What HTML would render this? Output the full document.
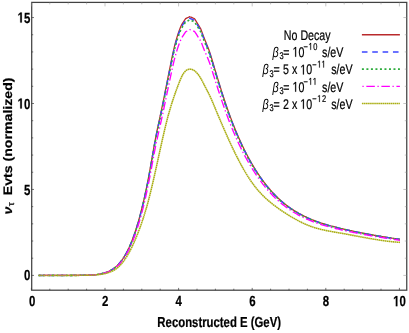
<!DOCTYPE html>
<html><head><meta charset="utf-8"><title>plot</title>
<style>
html,body{margin:0;padding:0;background:#fff;}
svg{display:block;will-change:transform;font-family:"Liberation Sans",sans-serif;}
.c path{fill:none;stroke-linejoin:round;}
.red{stroke:#b92a2c;stroke-width:1.25;}
.blu{stroke:#3b46ff;stroke-width:1.5;stroke-dasharray:5.6 4.75;}
.grn{stroke:#2dac3c;stroke-width:1.6;stroke-dasharray:2.0 2.51;}
.mag{stroke:#ff00ff;stroke-width:1.35;stroke-dasharray:8.5 2.6 1.3 2.64;stroke-dashoffset:10.6;}
.yel{stroke:#aaae14;stroke-width:1.55;stroke-dasharray:1.65 0.4;}
.ax line.d{stroke:#3a3a3a;stroke-width:0.7;}
.ax line.f{stroke:#8a8a8a;stroke-width:0.5;}
text{fill:#000;stroke:#000;stroke-width:0.22;text-rendering:geometricPrecision;}
.h{fill:none;stroke:none;}
.g1{fill:#000;stroke:#000;}
</style></head><body>
<svg width="409" height="333" viewBox="0 0 409 333">
<rect width="409" height="333" fill="#fff"/>
<g class="c">
<path class="red" d="M38.60,275.40 L39.51,275.40 L40.41,275.40 L41.32,275.40 L42.22,275.40 L43.13,275.39 L44.03,275.39 L44.94,275.39 L45.85,275.39 L46.75,275.39 L47.66,275.39 L48.56,275.39 L49.47,275.39 L50.37,275.40 L51.28,275.40 L52.19,275.40 L53.09,275.40 L54.00,275.40 L54.90,275.40 L55.81,275.40 L56.72,275.40 L57.62,275.40 L58.53,275.41 L59.43,275.41 L60.34,275.41 L61.24,275.41 L62.15,275.41 L63.06,275.41 L63.96,275.41 L64.87,275.41 L65.77,275.40 L66.68,275.40 L67.58,275.40 L68.49,275.40 L69.40,275.39 L70.30,275.39 L71.21,275.38 L72.11,275.38 L73.02,275.37 L73.92,275.37 L74.83,275.36 L75.74,275.35 L76.64,275.34 L77.55,275.33 L78.45,275.32 L79.36,275.31 L80.27,275.30 L81.17,275.29 L82.08,275.27 L82.98,275.26 L83.89,275.24 L84.79,275.22 L85.70,275.21 L86.61,275.19 L87.51,275.16 L88.42,275.14 L89.32,275.10 L90.23,275.07 L91.13,275.02 L92.04,274.97 L92.95,274.91 L93.85,274.83 L94.76,274.75 L95.66,274.66 L96.57,274.55 L97.47,274.43 L98.38,274.29 L99.29,274.14 L100.19,273.97 L101.10,273.78 L102.00,273.57 L102.91,273.34 L103.82,273.10 L104.72,272.83 L105.63,272.53 L106.53,272.21 L107.44,271.87 L108.34,271.49 L109.25,271.08 L110.16,270.63 L111.06,270.14 L111.97,269.61 L112.87,269.03 L113.78,268.41 L114.68,267.73 L115.59,266.99 L116.50,266.20 L117.40,265.35 L118.31,264.43 L119.21,263.44 L120.12,262.38 L121.02,261.25 L121.93,260.04 L122.84,258.75 L123.74,257.38 L124.65,255.93 L125.55,254.38 L126.46,252.75 L127.36,251.02 L128.27,249.19 L129.18,247.27 L130.08,245.24 L130.99,243.11 L131.89,240.87 L132.80,238.53 L133.71,236.07 L134.61,233.49 L135.52,230.80 L136.42,227.99 L137.33,225.05 L138.23,221.99 L139.14,218.79 L140.05,215.47 L140.95,212.01 L141.86,208.42 L142.76,204.68 L143.67,200.80 L144.57,196.78 L145.48,192.61 L146.39,188.29 L147.29,183.81 L148.20,179.18 L149.10,174.39 L150.01,169.44 L150.91,164.33 L151.82,159.11 L152.73,153.86 L153.63,148.66 L154.54,143.60 L155.44,138.74 L156.35,134.12 L157.26,129.67 L158.16,125.35 L159.07,121.12 L159.97,116.91 L160.88,112.68 L161.78,108.37 L162.69,103.99 L163.60,99.54 L164.50,95.03 L165.41,90.48 L166.31,85.91 L167.22,81.32 L168.12,76.74 L169.03,72.17 L169.94,67.64 L170.84,63.14 L171.75,58.71 L172.65,54.38 L173.56,50.26 L174.46,46.44 L175.37,42.92 L176.28,39.66 L177.18,36.63 L178.09,33.81 L178.99,31.17 L179.90,28.73 L180.81,26.50 L181.60,24.74 L181.71,24.57 L182.62,23.20 L183.52,21.82 L184.43,20.45 L185.33,19.07 L185.60,18.66 L186.24,18.36 L187.15,17.92 L188.05,17.49 L188.96,17.06 L189.80,16.65 L189.86,16.68 L190.77,17.07 L191.67,17.45 L192.58,17.84 L193.49,18.23 L194.39,18.62 L194.60,18.71 L195.30,19.85 L196.20,21.33 L197.11,22.81 L198.01,24.29 L198.92,25.77 L199.83,27.25 L200.60,28.51 L200.73,28.84 L201.64,31.18 L202.54,33.64 L203.45,36.12 L204.35,38.55 L205.26,40.85 L206.17,43.03 L207.07,45.19 L207.98,47.41 L208.88,49.80 L209.79,52.44 L210.70,55.28 L211.60,58.25 L212.51,61.27 L213.41,64.30 L214.32,67.32 L215.22,70.34 L216.13,73.36 L217.04,76.36 L217.94,79.35 L218.85,82.32 L219.75,85.26 L220.66,88.18 L221.56,91.07 L222.47,93.93 L223.38,96.74 L224.28,99.52 L225.19,102.25 L226.09,104.93 L227.00,107.57 L227.90,110.16 L228.81,112.70 L229.72,115.19 L230.62,117.64 L231.53,120.05 L232.43,122.41 L233.34,124.73 L234.25,127.01 L235.15,129.24 L236.06,131.44 L236.96,133.59 L237.87,135.70 L238.77,137.78 L239.68,139.81 L240.59,141.81 L241.49,143.77 L242.40,145.69 L243.30,147.57 L244.21,149.42 L245.11,151.24 L246.02,153.02 L246.93,154.76 L247.83,156.48 L248.74,158.16 L249.64,159.81 L250.55,161.42 L251.45,163.01 L252.36,164.57 L253.27,166.10 L254.17,167.59 L255.08,169.06 L255.98,170.51 L256.89,171.92 L257.79,173.31 L258.70,174.67 L259.61,176.00 L260.51,177.31 L261.42,178.59 L262.32,179.85 L263.23,181.08 L264.14,182.29 L265.04,183.47 L265.95,184.63 L266.85,185.77 L267.76,186.88 L268.66,187.97 L269.57,189.03 L270.48,190.08 L271.38,191.10 L272.29,192.10 L273.19,193.07 L274.10,194.03 L275.00,194.97 L275.91,195.88 L276.82,196.78 L277.72,197.66 L278.63,198.51 L279.53,199.35 L280.44,200.17 L281.34,200.97 L282.25,201.75 L283.16,202.52 L284.06,203.27 L284.97,204.00 L285.87,204.71 L286.78,205.41 L287.69,206.10 L288.59,206.76 L289.50,207.41 L290.40,208.05 L291.31,208.67 L292.21,209.28 L293.12,209.88 L294.03,210.46 L294.93,211.02 L295.84,211.58 L296.74,212.12 L297.65,212.65 L298.55,213.17 L299.46,213.68 L300.37,214.17 L301.27,214.66 L302.18,215.13 L303.08,215.59 L303.99,216.05 L304.89,216.49 L305.80,216.93 L306.71,217.35 L307.61,217.77 L308.52,218.17 L309.42,218.57 L310.33,218.96 L311.24,219.34 L312.14,219.71 L313.05,220.08 L313.95,220.43 L314.86,220.78 L315.76,221.13 L316.67,221.46 L317.58,221.79 L318.48,222.11 L319.39,222.42 L320.29,222.73 L321.20,223.03 L322.10,223.33 L323.01,223.62 L323.92,223.90 L324.82,224.18 L325.73,224.45 L326.63,224.72 L327.54,224.98 L328.44,225.24 L329.35,225.49 L330.26,225.74 L331.16,225.99 L332.07,226.23 L332.97,226.47 L333.88,226.71 L334.78,226.94 L335.69,227.17 L336.60,227.39 L337.50,227.62 L338.41,227.84 L339.31,228.06 L340.22,228.27 L341.13,228.49 L342.03,228.70 L342.94,228.91 L343.84,229.12 L344.75,229.33 L345.65,229.54 L346.56,229.74 L347.47,229.94 L348.37,230.14 L349.28,230.34 L350.18,230.54 L351.09,230.73 L351.99,230.93 L352.90,231.12 L353.81,231.31 L354.71,231.50 L355.62,231.69 L356.52,231.87 L357.43,232.06 L358.33,232.24 L359.24,232.42 L360.15,232.60 L361.05,232.78 L361.96,232.96 L362.86,233.13 L363.77,233.31 L364.68,233.48 L365.58,233.65 L366.49,233.82 L367.39,233.99 L368.30,234.16 L369.20,234.33 L370.11,234.49 L371.02,234.65 L371.92,234.82 L372.83,234.98 L373.73,235.14 L374.64,235.30 L375.54,235.45 L376.45,235.61 L377.36,235.76 L378.26,235.92 L379.17,236.07 L380.07,236.22 L380.98,236.37 L381.88,236.52 L382.79,236.67 L383.70,236.82 L384.60,236.97 L385.51,237.11 L386.41,237.26 L387.32,237.40 L388.23,237.55 L389.13,237.69 L390.04,237.83 L390.94,237.97 L391.85,238.11 L392.75,238.25 L393.66,238.38 L394.57,238.52 L395.47,238.66 L396.38,238.79 L397.28,238.93 L398.19,239.06 L399.09,239.20 L400.00,239.33"/>
<path class="blu" d="M38.60,275.40 L39.51,275.40 L40.41,275.40 L41.32,275.40 L42.22,275.40 L43.13,275.39 L44.03,275.39 L44.94,275.39 L45.85,275.39 L46.75,275.39 L47.66,275.39 L48.56,275.39 L49.47,275.39 L50.37,275.40 L51.28,275.40 L52.19,275.40 L53.09,275.40 L54.00,275.40 L54.90,275.40 L55.81,275.40 L56.72,275.40 L57.62,275.40 L58.53,275.41 L59.43,275.41 L60.34,275.41 L61.24,275.41 L62.15,275.41 L63.06,275.41 L63.96,275.41 L64.87,275.41 L65.77,275.40 L66.68,275.40 L67.58,275.40 L68.49,275.40 L69.40,275.39 L70.30,275.39 L71.21,275.39 L72.11,275.38 L73.02,275.37 L73.92,275.37 L74.83,275.36 L75.74,275.35 L76.64,275.34 L77.55,275.33 L78.45,275.32 L79.36,275.31 L80.27,275.30 L81.17,275.29 L82.08,275.27 L82.98,275.26 L83.89,275.24 L84.79,275.23 L85.70,275.21 L86.61,275.19 L87.51,275.17 L88.42,275.14 L89.32,275.11 L90.23,275.07 L91.13,275.02 L92.04,274.97 L92.95,274.91 L93.85,274.84 L94.76,274.76 L95.66,274.66 L96.57,274.56 L97.47,274.44 L98.38,274.30 L99.29,274.15 L100.19,273.98 L101.10,273.79 L102.00,273.59 L102.91,273.36 L103.82,273.12 L104.72,272.85 L105.63,272.56 L106.53,272.24 L107.44,271.90 L108.34,271.53 L109.25,271.12 L110.16,270.67 L111.06,270.19 L111.97,269.66 L112.87,269.09 L113.78,268.47 L114.68,267.80 L115.59,267.07 L116.50,266.28 L117.40,265.43 L118.31,264.52 L119.21,263.54 L120.12,262.50 L121.02,261.37 L121.93,260.18 L122.84,258.90 L123.74,257.54 L124.65,256.09 L125.55,254.56 L126.46,252.94 L127.36,251.22 L128.27,249.41 L129.18,247.51 L130.08,245.50 L130.99,243.38 L131.89,241.17 L132.80,238.84 L133.71,236.40 L134.61,233.84 L135.52,231.17 L136.42,228.38 L137.33,225.47 L138.23,222.43 L139.14,219.26 L140.05,215.96 L140.95,212.53 L141.86,208.97 L142.76,205.26 L143.67,201.41 L144.57,197.42 L145.48,193.28 L146.39,188.99 L147.29,184.55 L148.20,179.95 L149.10,175.20 L150.01,170.28 L150.91,165.21 L151.82,160.03 L152.73,154.82 L153.63,149.65 L154.54,144.63 L155.44,139.81 L156.35,135.21 L157.26,130.80 L158.16,126.51 L159.07,122.30 L159.97,118.12 L160.88,113.92 L161.78,109.64 L162.69,105.29 L163.60,100.86 L164.50,96.39 L165.41,91.87 L166.31,87.32 L167.22,82.77 L168.12,78.21 L169.03,73.68 L169.94,69.17 L170.84,64.70 L171.75,60.30 L172.65,56.00 L173.56,51.90 L174.46,48.10 L175.37,44.59 L176.28,41.34 L177.18,38.32 L178.09,35.51 L178.99,32.88 L179.90,30.45 L180.81,28.23 L181.60,26.47 L181.71,26.30 L182.62,24.92 L183.52,23.54 L184.43,22.17 L185.33,20.79 L185.60,20.38 L186.24,20.07 L187.15,19.63 L188.05,19.19 L188.96,18.74 L189.80,18.33 L189.86,18.36 L190.77,18.74 L191.67,19.13 L192.58,19.51 L193.49,19.90 L194.39,20.28 L194.60,20.37 L195.30,21.50 L196.20,22.97 L197.11,24.44 L198.01,25.91 L198.92,27.38 L199.83,28.85 L200.60,30.10 L200.73,30.43 L201.64,32.76 L202.54,35.20 L203.45,37.66 L204.35,40.08 L205.26,42.36 L206.17,44.53 L207.07,46.67 L207.98,48.87 L208.88,51.25 L209.79,53.87 L210.70,56.69 L211.60,59.64 L212.51,62.64 L213.41,65.65 L214.32,68.65 L215.22,71.65 L216.13,74.65 L217.04,77.63 L217.94,80.60 L218.85,83.55 L219.75,86.47 L220.66,89.36 L221.56,92.23 L222.47,95.06 L223.38,97.85 L224.28,100.60 L225.19,103.31 L226.09,105.97 L227.00,108.59 L227.90,111.15 L228.81,113.67 L229.72,116.15 L230.62,118.58 L231.53,120.96 L232.43,123.31 L233.34,125.61 L234.25,127.87 L235.15,130.08 L236.06,132.26 L236.96,134.39 L237.87,136.49 L238.77,138.55 L239.68,140.57 L240.59,142.55 L241.49,144.49 L242.40,146.40 L243.30,148.27 L244.21,150.10 L245.11,151.90 L246.02,153.67 L246.93,155.40 L247.83,157.10 L248.74,158.77 L249.64,160.40 L250.55,162.01 L251.45,163.58 L252.36,165.13 L253.27,166.65 L254.17,168.13 L255.08,169.59 L255.98,171.03 L256.89,172.43 L257.79,173.81 L258.70,175.16 L259.61,176.49 L260.51,177.79 L261.42,179.06 L262.32,180.31 L263.23,181.53 L264.14,182.73 L265.04,183.91 L265.95,185.06 L266.85,186.18 L267.76,187.29 L268.66,188.37 L269.57,189.43 L270.48,190.46 L271.38,191.48 L272.29,192.47 L273.19,193.44 L274.10,194.39 L275.00,195.32 L275.91,196.23 L276.82,197.12 L277.72,197.99 L278.63,198.85 L279.53,199.68 L280.44,200.49 L281.34,201.29 L282.25,202.07 L283.16,202.83 L284.06,203.57 L284.97,204.30 L285.87,205.01 L286.78,205.70 L287.69,206.38 L288.59,207.04 L289.50,207.69 L290.40,208.32 L291.31,208.94 L292.21,209.55 L293.12,210.14 L294.03,210.71 L294.93,211.28 L295.84,211.83 L296.74,212.37 L297.65,212.90 L298.55,213.41 L299.46,213.92 L300.37,214.41 L301.27,214.89 L302.18,215.36 L303.08,215.83 L303.99,216.28 L304.89,216.72 L305.80,217.15 L306.71,217.57 L307.61,217.99 L308.52,218.39 L309.42,218.79 L310.33,219.17 L311.24,219.55 L312.14,219.92 L313.05,220.29 L313.95,220.64 L314.86,220.99 L315.76,221.33 L316.67,221.66 L317.58,221.99 L318.48,222.31 L319.39,222.62 L320.29,222.92 L321.20,223.22 L322.10,223.52 L323.01,223.81 L323.92,224.09 L324.82,224.36 L325.73,224.64 L326.63,224.90 L327.54,225.17 L328.44,225.42 L329.35,225.68 L330.26,225.92 L331.16,226.17 L332.07,226.41 L332.97,226.65 L333.88,226.88 L334.78,227.11 L335.69,227.34 L336.60,227.57 L337.50,227.79 L338.41,228.01 L339.31,228.23 L340.22,228.44 L341.13,228.66 L342.03,228.87 L342.94,229.08 L343.84,229.29 L344.75,229.49 L345.65,229.70 L346.56,229.90 L347.47,230.10 L348.37,230.30 L349.28,230.50 L350.18,230.70 L351.09,230.89 L351.99,231.09 L352.90,231.28 L353.81,231.47 L354.71,231.65 L355.62,231.84 L356.52,232.03 L357.43,232.21 L358.33,232.39 L359.24,232.57 L360.15,232.75 L361.05,232.93 L361.96,233.11 L362.86,233.28 L363.77,233.45 L364.68,233.63 L365.58,233.80 L366.49,233.97 L367.39,234.13 L368.30,234.30 L369.20,234.47 L370.11,234.63 L371.02,234.79 L371.92,234.96 L372.83,235.12 L373.73,235.27 L374.64,235.43 L375.54,235.59 L376.45,235.75 L377.36,235.90 L378.26,236.05 L379.17,236.21 L380.07,236.36 L380.98,236.51 L381.88,236.66 L382.79,236.80 L383.70,236.95 L384.60,237.10 L385.51,237.24 L386.41,237.39 L387.32,237.53 L388.23,237.67 L389.13,237.81 L390.04,237.95 L390.94,238.09 L391.85,238.23 L392.75,238.37 L393.66,238.51 L394.57,238.64 L395.47,238.78 L396.38,238.91 L397.28,239.05 L398.19,239.18 L399.09,239.31 L400.00,239.45"/>
<path class="grn" d="M38.60,275.40 L39.51,275.40 L40.41,275.40 L41.32,275.40 L42.22,275.40 L43.13,275.39 L44.03,275.39 L44.94,275.39 L45.85,275.39 L46.75,275.39 L47.66,275.39 L48.56,275.39 L49.47,275.39 L50.37,275.40 L51.28,275.40 L52.19,275.40 L53.09,275.40 L54.00,275.40 L54.90,275.40 L55.81,275.40 L56.72,275.40 L57.62,275.40 L58.53,275.41 L59.43,275.41 L60.34,275.41 L61.24,275.41 L62.15,275.41 L63.06,275.41 L63.96,275.41 L64.87,275.41 L65.77,275.40 L66.68,275.40 L67.58,275.40 L68.49,275.40 L69.40,275.39 L70.30,275.39 L71.21,275.39 L72.11,275.38 L73.02,275.37 L73.92,275.37 L74.83,275.36 L75.74,275.35 L76.64,275.34 L77.55,275.34 L78.45,275.33 L79.36,275.31 L80.27,275.30 L81.17,275.29 L82.08,275.28 L82.98,275.26 L83.89,275.24 L84.79,275.23 L85.70,275.21 L86.61,275.19 L87.51,275.17 L88.42,275.14 L89.32,275.11 L90.23,275.07 L91.13,275.03 L92.04,274.98 L92.95,274.92 L93.85,274.84 L94.76,274.76 L95.66,274.67 L96.57,274.56 L97.47,274.44 L98.38,274.31 L99.29,274.16 L100.19,273.99 L101.10,273.81 L102.00,273.60 L102.91,273.38 L103.82,273.14 L104.72,272.87 L105.63,272.58 L106.53,272.27 L107.44,271.93 L108.34,271.56 L109.25,271.15 L110.16,270.71 L111.06,270.23 L111.97,269.71 L112.87,269.14 L113.78,268.53 L114.68,267.86 L115.59,267.14 L116.50,266.36 L117.40,265.52 L118.31,264.61 L119.21,263.64 L120.12,262.60 L121.02,261.49 L121.93,260.30 L122.84,259.03 L123.74,257.68 L124.65,256.25 L125.55,254.73 L126.46,253.12 L127.36,251.42 L128.27,249.62 L129.18,247.73 L130.08,245.73 L130.99,243.64 L131.89,241.43 L132.80,239.12 L133.71,236.70 L134.61,234.17 L135.52,231.52 L136.42,228.75 L137.33,225.85 L138.23,222.84 L139.14,219.69 L140.05,216.42 L140.95,213.01 L141.86,209.47 L142.76,205.79 L143.67,201.97 L144.57,198.01 L145.48,193.90 L146.39,189.64 L147.29,185.23 L148.20,180.66 L149.10,175.94 L150.01,171.06 L150.91,166.02 L151.82,160.88 L152.73,155.70 L153.63,150.57 L154.54,145.58 L155.44,140.79 L156.35,136.23 L157.26,131.84 L158.16,127.58 L159.07,123.40 L159.97,119.24 L160.88,115.07 L161.78,110.82 L162.69,106.49 L163.60,102.09 L164.50,97.64 L165.41,93.15 L166.31,88.63 L167.22,84.10 L168.12,79.58 L169.03,75.06 L169.94,70.58 L170.84,66.14 L171.75,61.76 L172.65,57.48 L173.56,53.41 L174.46,49.62 L175.37,46.13 L176.28,42.89 L177.18,39.89 L178.09,37.08 L178.99,34.46 L179.90,32.03 L180.81,29.81 L181.60,28.06 L181.71,27.89 L182.62,26.51 L183.52,25.13 L184.43,23.75 L185.33,22.37 L185.60,21.97 L186.24,21.65 L187.15,21.20 L188.05,20.75 L188.96,20.30 L189.80,19.89 L189.86,19.91 L190.77,20.29 L191.67,20.67 L192.58,21.05 L193.49,21.44 L194.39,21.82 L194.60,21.90 L195.30,23.03 L196.20,24.49 L197.11,25.95 L198.01,27.41 L198.92,28.87 L199.83,30.33 L200.60,31.57 L200.73,31.90 L201.64,34.21 L202.54,36.63 L203.45,39.09 L204.35,41.48 L205.26,43.75 L206.17,45.91 L207.07,48.03 L207.98,50.23 L208.88,52.58 L209.79,55.19 L210.70,57.99 L211.60,60.92 L212.51,63.90 L213.41,66.89 L214.32,69.88 L215.22,72.86 L216.13,75.84 L217.04,78.80 L217.94,81.75 L218.85,84.68 L219.75,87.58 L220.66,90.45 L221.56,93.30 L222.47,96.10 L223.38,98.88 L224.28,101.61 L225.19,104.29 L226.09,106.93 L227.00,109.52 L227.90,112.07 L228.81,114.57 L229.72,117.03 L230.62,119.44 L231.53,121.81 L232.43,124.13 L233.34,126.42 L234.25,128.66 L235.15,130.86 L236.06,133.02 L236.96,135.14 L237.87,137.22 L238.77,139.26 L239.68,141.26 L240.59,143.23 L241.49,145.16 L242.40,147.05 L243.30,148.91 L244.21,150.73 L245.11,152.52 L246.02,154.27 L246.93,155.99 L247.83,157.68 L248.74,159.33 L249.64,160.96 L250.55,162.55 L251.45,164.11 L252.36,165.65 L253.27,167.15 L254.17,168.63 L255.08,170.08 L255.98,171.51 L256.89,172.90 L257.79,174.27 L258.70,175.62 L259.61,176.93 L260.51,178.22 L261.42,179.49 L262.32,180.73 L263.23,181.95 L264.14,183.14 L265.04,184.31 L265.95,185.45 L266.85,186.57 L267.76,187.67 L268.66,188.74 L269.57,189.79 L270.48,190.82 L271.38,191.83 L272.29,192.82 L273.19,193.78 L274.10,194.73 L275.00,195.65 L275.91,196.56 L276.82,197.44 L277.72,198.31 L278.63,199.15 L279.53,199.98 L280.44,200.79 L281.34,201.58 L282.25,202.35 L283.16,203.11 L284.06,203.85 L284.97,204.57 L285.87,205.27 L286.78,205.96 L287.69,206.64 L288.59,207.30 L289.50,207.94 L290.40,208.57 L291.31,209.19 L292.21,209.79 L293.12,210.38 L294.03,210.95 L294.93,211.52 L295.84,212.06 L296.74,212.60 L297.65,213.13 L298.55,213.64 L299.46,214.14 L300.37,214.63 L301.27,215.11 L302.18,215.58 L303.08,216.04 L303.99,216.49 L304.89,216.93 L305.80,217.36 L306.71,217.78 L307.61,218.19 L308.52,218.59 L309.42,218.99 L310.33,219.37 L311.24,219.75 L312.14,220.12 L313.05,220.48 L313.95,220.83 L314.86,221.18 L315.76,221.52 L316.67,221.85 L317.58,222.17 L318.48,222.49 L319.39,222.80 L320.29,223.10 L321.20,223.40 L322.10,223.69 L323.01,223.98 L323.92,224.26 L324.82,224.54 L325.73,224.81 L326.63,225.07 L327.54,225.33 L328.44,225.59 L329.35,225.84 L330.26,226.09 L331.16,226.33 L332.07,226.57 L332.97,226.81 L333.88,227.04 L334.78,227.27 L335.69,227.50 L336.60,227.72 L337.50,227.95 L338.41,228.17 L339.31,228.38 L340.22,228.60 L341.13,228.81 L342.03,229.02 L342.94,229.23 L343.84,229.44 L344.75,229.64 L345.65,229.85 L346.56,230.05 L347.47,230.25 L348.37,230.45 L349.28,230.65 L350.18,230.84 L351.09,231.04 L351.99,231.23 L352.90,231.42 L353.81,231.61 L354.71,231.80 L355.62,231.98 L356.52,232.17 L357.43,232.35 L358.33,232.53 L359.24,232.71 L360.15,232.89 L361.05,233.07 L361.96,233.24 L362.86,233.42 L363.77,233.59 L364.68,233.76 L365.58,233.93 L366.49,234.10 L367.39,234.27 L368.30,234.43 L369.20,234.60 L370.11,234.76 L371.02,234.92 L371.92,235.08 L372.83,235.24 L373.73,235.40 L374.64,235.56 L375.54,235.71 L376.45,235.87 L377.36,236.02 L378.26,236.18 L379.17,236.33 L380.07,236.48 L380.98,236.63 L381.88,236.78 L382.79,236.92 L383.70,237.07 L384.60,237.22 L385.51,237.36 L386.41,237.50 L387.32,237.65 L388.23,237.79 L389.13,237.93 L390.04,238.07 L390.94,238.21 L391.85,238.35 L392.75,238.48 L393.66,238.62 L394.57,238.76 L395.47,238.89 L396.38,239.03 L397.28,239.16 L398.19,239.29 L399.09,239.42 L400.00,239.56"/>
<path class="mag" d="M38.60,275.40 L39.51,275.40 L40.41,275.40 L41.32,275.40 L42.22,275.40 L43.13,275.39 L44.03,275.39 L44.94,275.39 L45.85,275.39 L46.75,275.39 L47.66,275.39 L48.56,275.39 L49.47,275.40 L50.37,275.40 L51.28,275.40 L52.19,275.40 L53.09,275.40 L54.00,275.40 L54.90,275.40 L55.81,275.40 L56.72,275.40 L57.62,275.40 L58.53,275.41 L59.43,275.41 L60.34,275.41 L61.24,275.41 L62.15,275.41 L63.06,275.41 L63.96,275.41 L64.87,275.40 L65.77,275.40 L66.68,275.40 L67.58,275.40 L68.49,275.40 L69.40,275.39 L70.30,275.39 L71.21,275.39 L72.11,275.38 L73.02,275.38 L73.92,275.37 L74.83,275.36 L75.74,275.36 L76.64,275.35 L77.55,275.34 L78.45,275.33 L79.36,275.32 L80.27,275.31 L81.17,275.30 L82.08,275.28 L82.98,275.27 L83.89,275.25 L84.79,275.24 L85.70,275.22 L86.61,275.20 L87.51,275.18 L88.42,275.16 L89.32,275.13 L90.23,275.09 L91.13,275.05 L92.04,275.00 L92.95,274.94 L93.85,274.87 L94.76,274.80 L95.66,274.71 L96.57,274.61 L97.47,274.50 L98.38,274.37 L99.29,274.23 L100.19,274.07 L101.10,273.89 L102.00,273.70 L102.91,273.49 L103.82,273.26 L104.72,273.01 L105.63,272.73 L106.53,272.44 L107.44,272.11 L108.34,271.76 L109.25,271.38 L110.16,270.96 L111.06,270.50 L111.97,270.01 L112.87,269.47 L113.78,268.89 L114.68,268.25 L115.59,267.57 L116.50,266.82 L117.40,266.03 L118.31,265.17 L119.21,264.25 L120.12,263.26 L121.02,262.20 L121.93,261.07 L122.84,259.86 L123.74,258.58 L124.65,257.22 L125.55,255.77 L126.46,254.24 L127.36,252.62 L128.27,250.91 L129.18,249.11 L130.08,247.21 L130.99,245.21 L131.89,243.11 L132.80,240.91 L133.71,238.61 L134.61,236.19 L135.52,233.66 L136.42,231.02 L137.33,228.26 L138.23,225.39 L139.14,222.39 L140.05,219.27 L140.95,216.02 L141.86,212.64 L142.76,209.12 L143.67,205.47 L144.57,201.69 L145.48,197.76 L146.39,193.69 L147.29,189.47 L148.20,185.11 L149.10,180.59 L150.01,175.92 L150.91,171.10 L151.82,166.17 L152.73,161.22 L153.63,156.31 L154.54,151.52 L155.44,146.93 L156.35,142.56 L157.26,138.35 L158.16,134.26 L159.07,130.24 L159.97,126.25 L160.88,122.23 L161.78,118.15 L162.69,113.99 L163.60,109.76 L164.50,105.48 L165.41,101.15 L166.31,96.81 L167.22,92.45 L168.12,88.08 L169.03,83.74 L169.94,79.42 L170.84,75.14 L171.75,70.91 L172.65,66.78 L173.56,62.83 L174.46,59.15 L175.37,55.75 L176.28,52.59 L177.18,49.65 L178.09,46.90 L178.99,44.33 L179.90,41.93 L180.81,39.75 L181.60,38.01 L181.71,37.84 L182.62,36.45 L183.52,35.06 L184.43,33.67 L185.33,32.29 L185.60,31.88 L186.24,31.53 L187.15,31.03 L188.05,30.53 L188.96,30.04 L189.80,29.59 L189.86,29.61 L190.77,29.97 L191.67,30.33 L192.58,30.69 L193.49,31.05 L194.39,31.42 L194.60,31.50 L195.30,32.57 L196.20,33.97 L197.11,35.37 L198.01,36.77 L198.92,38.17 L199.83,39.57 L200.60,40.76 L200.73,41.07 L201.64,43.30 L202.54,45.62 L203.45,47.97 L204.35,50.28 L205.26,52.46 L206.17,54.52 L207.07,56.56 L207.98,58.67 L208.88,60.93 L209.79,63.43 L210.70,66.13 L211.60,68.94 L212.51,71.81 L213.41,74.68 L214.32,77.55 L215.22,80.42 L216.13,83.28 L217.04,86.13 L217.94,88.96 L218.85,91.78 L219.75,94.54 L220.66,97.27 L221.56,99.97 L222.47,102.63 L223.38,105.27 L224.28,107.86 L225.19,110.42 L226.09,112.93 L227.00,115.39 L227.90,117.81 L228.81,120.19 L229.72,122.53 L230.62,124.82 L231.53,127.08 L232.43,129.29 L233.34,131.47 L234.25,133.60 L235.15,135.70 L236.06,137.75 L236.96,139.77 L237.87,141.76 L238.77,143.70 L239.68,145.61 L240.59,147.49 L241.49,149.33 L242.40,151.13 L243.30,152.90 L244.21,154.64 L245.11,156.35 L246.02,158.02 L246.93,159.66 L247.83,161.27 L248.74,162.85 L249.64,164.40 L250.55,165.93 L251.45,167.42 L252.36,168.89 L253.27,170.33 L254.17,171.75 L255.08,173.14 L255.98,174.51 L256.89,175.85 L257.79,177.17 L258.70,178.46 L259.61,179.72 L260.51,180.96 L261.42,182.18 L262.32,183.37 L263.23,184.54 L264.14,185.68 L265.04,186.80 L265.95,187.90 L266.85,188.98 L267.76,190.03 L268.66,191.06 L269.57,192.07 L270.48,193.06 L271.38,194.03 L272.29,194.98 L273.19,195.91 L274.10,196.82 L275.00,197.71 L275.91,198.57 L276.82,199.43 L277.72,200.26 L278.63,201.07 L279.53,201.87 L280.44,202.64 L281.34,203.40 L282.25,204.15 L283.16,204.87 L284.06,205.58 L284.97,206.28 L285.87,206.95 L286.78,207.62 L287.69,208.26 L288.59,208.90 L289.50,209.52 L290.40,210.13 L291.31,210.73 L292.21,211.31 L293.12,211.89 L294.03,212.44 L294.93,212.99 L295.84,213.52 L296.74,214.04 L297.65,214.55 L298.55,215.05 L299.46,215.54 L300.37,216.01 L301.27,216.48 L302.18,216.93 L303.08,217.38 L303.99,217.81 L304.89,218.24 L305.80,218.66 L306.71,219.07 L307.61,219.47 L308.52,219.86 L309.42,220.24 L310.33,220.61 L311.24,220.98 L312.14,221.33 L313.05,221.68 L313.95,222.03 L314.86,222.36 L315.76,222.69 L316.67,223.01 L317.58,223.32 L318.48,223.63 L319.39,223.93 L320.29,224.23 L321.20,224.52 L322.10,224.80 L323.01,225.08 L323.92,225.35 L324.82,225.62 L325.73,225.88 L326.63,226.14 L327.54,226.39 L328.44,226.64 L329.35,226.89 L330.26,227.13 L331.16,227.36 L332.07,227.60 L332.97,227.83 L333.88,228.06 L334.78,228.28 L335.69,228.50 L336.60,228.72 L337.50,228.93 L338.41,229.15 L339.31,229.36 L340.22,229.57 L341.13,229.78 L342.03,229.98 L342.94,230.19 L343.84,230.39 L344.75,230.59 L345.65,230.79 L346.56,230.98 L347.47,231.18 L348.37,231.37 L349.28,231.57 L350.18,231.76 L351.09,231.94 L351.99,232.13 L352.90,232.32 L353.81,232.50 L354.71,232.68 L355.62,232.87 L356.52,233.04 L357.43,233.22 L358.33,233.40 L359.24,233.57 L360.15,233.75 L361.05,233.92 L361.96,234.09 L362.86,234.26 L363.77,234.43 L364.68,234.60 L365.58,234.76 L366.49,234.93 L367.39,235.09 L368.30,235.25 L369.20,235.41 L370.11,235.57 L371.02,235.73 L371.92,235.88 L372.83,236.04 L373.73,236.19 L374.64,236.35 L375.54,236.50 L376.45,236.65 L377.36,236.80 L378.26,236.95 L379.17,237.10 L380.07,237.24 L380.98,237.39 L381.88,237.53 L382.79,237.68 L383.70,237.82 L384.60,237.96 L385.51,238.10 L386.41,238.24 L387.32,238.38 L388.23,238.52 L389.13,238.66 L390.04,238.79 L390.94,238.93 L391.85,239.06 L392.75,239.20 L393.66,239.33 L394.57,239.46 L395.47,239.59 L396.38,239.72 L397.28,239.85 L398.19,239.98 L399.09,240.11 L400.00,240.24"/>
<path class="yel" d="M38.60,275.40 L39.51,275.40 L40.41,275.40 L41.32,275.40 L42.22,275.40 L43.13,275.40 L44.03,275.40 L44.94,275.40 L45.85,275.40 L46.75,275.40 L47.66,275.40 L48.56,275.40 L49.47,275.40 L50.37,275.40 L51.28,275.40 L52.19,275.40 L53.09,275.40 L54.00,275.40 L54.90,275.40 L55.81,275.40 L56.72,275.41 L57.62,275.41 L58.53,275.41 L59.43,275.41 L60.34,275.41 L61.24,275.41 L62.15,275.41 L63.06,275.41 L63.96,275.41 L64.87,275.41 L65.77,275.40 L66.68,275.40 L67.58,275.40 L68.49,275.40 L69.40,275.40 L70.30,275.40 L71.21,275.39 L72.11,275.39 L73.02,275.39 L73.92,275.38 L74.83,275.38 L75.74,275.37 L76.64,275.37 L77.55,275.36 L78.45,275.36 L79.36,275.35 L80.27,275.34 L81.17,275.33 L82.08,275.33 L82.98,275.32 L83.89,275.31 L84.79,275.30 L85.70,275.29 L86.61,275.27 L87.51,275.26 L88.42,275.24 L89.32,275.22 L90.23,275.20 L91.13,275.17 L92.04,275.14 L92.95,275.09 L93.85,275.04 L94.76,274.99 L95.66,274.92 L96.57,274.85 L97.47,274.76 L98.38,274.67 L99.29,274.56 L100.19,274.44 L101.10,274.31 L102.00,274.16 L102.91,274.00 L103.82,273.82 L104.72,273.62 L105.63,273.41 L106.53,273.18 L107.44,272.93 L108.34,272.66 L109.25,272.35 L110.16,272.02 L111.06,271.65 L111.97,271.24 L112.87,270.79 L113.78,270.30 L114.68,269.76 L115.59,269.16 L116.50,268.52 L117.40,267.81 L118.31,267.05 L119.21,266.22 L120.12,265.32 L121.02,264.35 L121.93,263.31 L122.84,262.20 L123.74,261.01 L124.65,259.74 L125.55,258.41 L126.46,257.00 L127.36,255.51 L128.27,253.96 L129.18,252.34 L130.08,250.64 L130.99,248.88 L131.89,247.04 L132.80,245.14 L133.71,243.17 L134.61,241.13 L135.52,239.03 L136.42,236.85 L137.33,234.62 L138.23,232.31 L139.14,229.94 L140.05,227.50 L140.95,224.97 L141.86,222.37 L142.76,219.68 L143.67,216.89 L144.57,214.02 L145.48,211.04 L146.39,207.95 L147.29,204.76 L148.20,201.45 L149.10,198.02 L150.01,194.47 L150.91,190.81 L151.82,187.04 L152.73,183.18 L153.63,179.24 L154.54,175.23 L155.44,171.17 L156.35,167.07 L157.26,162.94 L158.16,158.80 L159.07,154.66 L159.97,150.53 L160.88,146.42 L161.78,142.35 L162.69,138.32 L163.60,134.37 L164.50,130.48 L165.41,126.68 L166.31,122.99 L167.22,119.41 L168.12,115.95 L169.03,112.64 L169.94,109.46 L170.84,106.42 L171.75,103.49 L172.65,100.67 L173.56,97.95 L174.46,95.32 L175.37,92.76 L176.28,90.26 L177.18,87.82 L178.09,85.42 L178.99,83.06 L179.90,80.77 L180.81,78.60 L181.60,76.84 L181.71,76.61 L182.62,74.84 L183.52,73.35 L184.43,72.15 L185.33,71.20 L185.60,70.96 L186.24,70.46 L187.15,69.89 L188.05,69.48 L188.96,69.23 L189.80,69.12 L189.86,69.12 L190.77,69.16 L191.67,69.34 L192.58,69.66 L193.49,70.11 L194.39,70.69 L194.60,70.84 L195.30,71.39 L196.20,72.22 L197.11,73.18 L198.01,74.26 L198.92,75.48 L199.83,76.83 L200.60,78.09 L200.73,78.31 L201.64,79.92 L202.54,81.62 L203.45,83.38 L204.35,85.16 L205.26,86.93 L206.17,88.67 L207.07,90.40 L207.98,92.15 L208.88,93.94 L209.79,95.78 L210.70,97.71 L211.60,99.75 L212.51,101.86 L213.41,104.03 L214.32,106.21 L215.22,108.39 L216.13,110.56 L217.04,112.73 L217.94,114.88 L218.85,117.03 L219.75,119.17 L220.66,121.30 L221.56,123.42 L222.47,125.52 L223.38,127.61 L224.28,129.69 L225.19,131.76 L226.09,133.81 L227.00,135.84 L227.90,137.86 L228.81,139.85 L229.72,141.83 L230.62,143.80 L231.53,145.74 L232.43,147.66 L233.34,149.56 L234.25,151.43 L235.15,153.29 L236.06,155.12 L236.96,156.92 L237.87,158.70 L238.77,160.45 L239.68,162.18 L240.59,163.88 L241.49,165.55 L242.40,167.19 L243.30,168.80 L244.21,170.38 L245.11,171.92 L246.02,173.44 L246.93,174.92 L247.83,176.37 L248.74,177.78 L249.64,179.16 L250.55,180.50 L251.45,181.80 L252.36,183.07 L253.27,184.30 L254.17,185.50 L255.08,186.67 L255.98,187.81 L256.89,188.91 L257.79,189.99 L258.70,191.03 L259.61,192.05 L260.51,193.04 L261.42,194.01 L262.32,194.95 L263.23,195.86 L264.14,196.76 L265.04,197.63 L265.95,198.47 L266.85,199.30 L267.76,200.11 L268.66,200.90 L269.57,201.67 L270.48,202.42 L271.38,203.16 L272.29,203.88 L273.19,204.59 L274.10,205.28 L275.00,205.96 L275.91,206.63 L276.82,207.29 L277.72,207.94 L278.63,208.59 L279.53,209.22 L280.44,209.85 L281.34,210.47 L282.25,211.08 L283.16,211.69 L284.06,212.29 L284.97,212.88 L285.87,213.47 L286.78,214.05 L287.69,214.63 L288.59,215.19 L289.50,215.75 L290.40,216.30 L291.31,216.85 L292.21,217.38 L293.12,217.91 L294.03,218.43 L294.93,218.94 L295.84,219.44 L296.74,219.93 L297.65,220.42 L298.55,220.89 L299.46,221.36 L300.37,221.82 L301.27,222.26 L302.18,222.70 L303.08,223.13 L303.99,223.54 L304.89,223.95 L305.80,224.35 L306.71,224.73 L307.61,225.11 L308.52,225.47 L309.42,225.83 L310.33,226.17 L311.24,226.50 L312.14,226.82 L313.05,227.12 L313.95,227.42 L314.86,227.71 L315.76,227.98 L316.67,228.25 L317.58,228.50 L318.48,228.75 L319.39,228.99 L320.29,229.21 L321.20,229.44 L322.10,229.65 L323.01,229.86 L323.92,230.06 L324.82,230.25 L325.73,230.44 L326.63,230.63 L327.54,230.81 L328.44,230.98 L329.35,231.15 L330.26,231.32 L331.16,231.48 L332.07,231.65 L332.97,231.81 L333.88,231.96 L334.78,232.12 L335.69,232.28 L336.60,232.43 L337.50,232.59 L338.41,232.74 L339.31,232.90 L340.22,233.05 L341.13,233.21 L342.03,233.37 L342.94,233.54 L343.84,233.70 L344.75,233.86 L345.65,234.03 L346.56,234.19 L347.47,234.36 L348.37,234.53 L349.28,234.70 L350.18,234.87 L351.09,235.04 L351.99,235.21 L352.90,235.38 L353.81,235.55 L354.71,235.72 L355.62,235.89 L356.52,236.06 L357.43,236.23 L358.33,236.40 L359.24,236.57 L360.15,236.74 L361.05,236.91 L361.96,237.08 L362.86,237.24 L363.77,237.41 L364.68,237.58 L365.58,237.74 L366.49,237.90 L367.39,238.07 L368.30,238.23 L369.20,238.39 L370.11,238.55 L371.02,238.71 L371.92,238.86 L372.83,239.01 L373.73,239.17 L374.64,239.32 L375.54,239.46 L376.45,239.61 L377.36,239.75 L378.26,239.90 L379.17,240.04 L380.07,240.17 L380.98,240.31 L381.88,240.44 L382.79,240.57 L383.70,240.69 L384.60,240.82 L385.51,240.94 L386.41,241.05 L387.32,241.17 L388.23,241.28 L389.13,241.38 L390.04,241.49 L390.94,241.59 L391.85,241.68 L392.75,241.77 L393.66,241.86 L394.57,241.95 L395.47,242.03 L396.38,242.10 L397.28,242.18 L398.19,242.24 L399.09,242.31 L400.00,242.37"/>
<path class="red" style="stroke-width:1.6" d="M361.9,34.74 L399.9,34.74"/>
<path class="blu"  d="M361.9,51.93 L399.9,51.93"/>
<path class="grn"  d="M361.9,69.12 L399.9,69.12"/>
<path class="mag"  d="M361.9,86.31 L399.9,86.31"/>
<path class="yel"  d="M361.9,103.50 L399.9,103.50"/>
</g>
<g class="ax">
<rect x="31.7" y="2.4" width="375.05" height="287.8" fill="none" stroke="#424242" stroke-width="1.25"/>
<line class="d" x1="31.40" y1="290.2" x2="31.40" y2="287.9"/>
<line class="f" x1="31.40" y1="2.4" x2="31.40" y2="6.4"/>
<line class="d" x1="49.80" y1="290.2" x2="49.80" y2="288.7"/>
<line class="f" x1="49.80" y1="2.4" x2="49.80" y2="4.4"/>
<line class="d" x1="68.20" y1="290.2" x2="68.20" y2="288.7"/>
<line class="f" x1="68.20" y1="2.4" x2="68.20" y2="4.4"/>
<line class="d" x1="86.60" y1="290.2" x2="86.60" y2="288.7"/>
<line class="f" x1="86.60" y1="2.4" x2="86.60" y2="4.4"/>
<line class="d" x1="105.00" y1="290.2" x2="105.00" y2="287.9"/>
<line class="f" x1="105.00" y1="2.4" x2="105.00" y2="6.4"/>
<line class="d" x1="123.40" y1="290.2" x2="123.40" y2="288.7"/>
<line class="f" x1="123.40" y1="2.4" x2="123.40" y2="4.4"/>
<line class="d" x1="141.80" y1="290.2" x2="141.80" y2="288.7"/>
<line class="f" x1="141.80" y1="2.4" x2="141.80" y2="4.4"/>
<line class="d" x1="160.20" y1="290.2" x2="160.20" y2="288.7"/>
<line class="f" x1="160.20" y1="2.4" x2="160.20" y2="4.4"/>
<line class="d" x1="178.60" y1="290.2" x2="178.60" y2="287.9"/>
<line class="f" x1="178.60" y1="2.4" x2="178.60" y2="6.4"/>
<line class="d" x1="197.00" y1="290.2" x2="197.00" y2="288.7"/>
<line class="f" x1="197.00" y1="2.4" x2="197.00" y2="4.4"/>
<line class="d" x1="215.40" y1="290.2" x2="215.40" y2="288.7"/>
<line class="f" x1="215.40" y1="2.4" x2="215.40" y2="4.4"/>
<line class="d" x1="233.80" y1="290.2" x2="233.80" y2="288.7"/>
<line class="f" x1="233.80" y1="2.4" x2="233.80" y2="4.4"/>
<line class="d" x1="252.20" y1="290.2" x2="252.20" y2="287.9"/>
<line class="f" x1="252.20" y1="2.4" x2="252.20" y2="6.4"/>
<line class="d" x1="270.60" y1="290.2" x2="270.60" y2="288.7"/>
<line class="f" x1="270.60" y1="2.4" x2="270.60" y2="4.4"/>
<line class="d" x1="289.00" y1="290.2" x2="289.00" y2="288.7"/>
<line class="f" x1="289.00" y1="2.4" x2="289.00" y2="4.4"/>
<line class="d" x1="307.40" y1="290.2" x2="307.40" y2="288.7"/>
<line class="f" x1="307.40" y1="2.4" x2="307.40" y2="4.4"/>
<line class="d" x1="325.80" y1="290.2" x2="325.80" y2="287.9"/>
<line class="f" x1="325.80" y1="2.4" x2="325.80" y2="6.4"/>
<line class="d" x1="344.20" y1="290.2" x2="344.20" y2="288.7"/>
<line class="f" x1="344.20" y1="2.4" x2="344.20" y2="4.4"/>
<line class="d" x1="362.60" y1="290.2" x2="362.60" y2="288.7"/>
<line class="f" x1="362.60" y1="2.4" x2="362.60" y2="4.4"/>
<line class="d" x1="381.00" y1="290.2" x2="381.00" y2="288.7"/>
<line class="f" x1="381.00" y1="2.4" x2="381.00" y2="4.4"/>
<line class="d" x1="399.40" y1="290.2" x2="399.40" y2="287.9"/>
<line class="f" x1="399.40" y1="2.4" x2="399.40" y2="6.4"/>
<line class="d" x1="31.7" y1="275.40" x2="34.0" y2="275.40"/>
<line class="f" x1="406.75" y1="275.40" x2="403.35" y2="275.40"/>
<line class="d" x1="31.7" y1="258.21" x2="33.2" y2="258.21"/>
<line class="f" x1="406.75" y1="258.21" x2="404.75" y2="258.21"/>
<line class="d" x1="31.7" y1="241.02" x2="33.2" y2="241.02"/>
<line class="f" x1="406.75" y1="241.02" x2="404.75" y2="241.02"/>
<line class="d" x1="31.7" y1="223.83" x2="33.2" y2="223.83"/>
<line class="f" x1="406.75" y1="223.83" x2="404.75" y2="223.83"/>
<line class="d" x1="31.7" y1="206.64" x2="33.2" y2="206.64"/>
<line class="f" x1="406.75" y1="206.64" x2="404.75" y2="206.64"/>
<line class="d" x1="31.7" y1="189.45" x2="34.0" y2="189.45"/>
<line class="f" x1="406.75" y1="189.45" x2="403.35" y2="189.45"/>
<line class="d" x1="31.7" y1="172.26" x2="33.2" y2="172.26"/>
<line class="f" x1="406.75" y1="172.26" x2="404.75" y2="172.26"/>
<line class="d" x1="31.7" y1="155.07" x2="33.2" y2="155.07"/>
<line class="f" x1="406.75" y1="155.07" x2="404.75" y2="155.07"/>
<line class="d" x1="31.7" y1="137.88" x2="33.2" y2="137.88"/>
<line class="f" x1="406.75" y1="137.88" x2="404.75" y2="137.88"/>
<line class="d" x1="31.7" y1="120.69" x2="33.2" y2="120.69"/>
<line class="f" x1="406.75" y1="120.69" x2="404.75" y2="120.69"/>
<line class="d" x1="31.7" y1="103.50" x2="34.0" y2="103.50"/>
<line class="f" x1="406.75" y1="103.50" x2="403.35" y2="103.50"/>
<line class="d" x1="31.7" y1="86.31" x2="33.2" y2="86.31"/>
<line class="f" x1="406.75" y1="86.31" x2="404.75" y2="86.31"/>
<line class="d" x1="31.7" y1="69.12" x2="33.2" y2="69.12"/>
<line class="f" x1="406.75" y1="69.12" x2="404.75" y2="69.12"/>
<line class="d" x1="31.7" y1="51.93" x2="33.2" y2="51.93"/>
<line class="f" x1="406.75" y1="51.93" x2="404.75" y2="51.93"/>
<line class="d" x1="31.7" y1="34.74" x2="33.2" y2="34.74"/>
<line class="f" x1="406.75" y1="34.74" x2="404.75" y2="34.74"/>
<line class="d" x1="31.7" y1="17.55" x2="34.0" y2="17.55"/>
<line class="f" x1="406.75" y1="17.55" x2="403.35" y2="17.55"/>
</g>
<g>
<text transform="translate(32.1,306.15) scale(0.778,1)" text-anchor="middle" font-weight="bold" font-size="14.7">0</text>
<text transform="translate(105.1,306.15) scale(0.778,1)" text-anchor="middle" font-weight="bold" font-size="14.7">2</text>
<text transform="translate(178.7,306.15) scale(0.778,1)" text-anchor="middle" font-weight="bold" font-size="14.7">4</text>
<text transform="translate(252.3,306.15) scale(0.778,1)" text-anchor="middle" font-weight="bold" font-size="14.7">6</text>
<text transform="translate(325.9,306.15) scale(0.778,1)" text-anchor="middle" font-weight="bold" font-size="14.7">8</text>
<text transform="translate(399.5,306.15) scale(0.778,1)" text-anchor="middle" font-weight="bold" font-size="14.7"><tspan class="h">1</tspan>0</text>
<text transform="translate(30.3,280.45) scale(0.778,1)" text-anchor="end" font-weight="bold" font-size="14.7">0</text>
<text transform="translate(30.3,194.5) scale(0.778,1)" text-anchor="end" font-weight="bold" font-size="14.7">5</text>
<text transform="translate(30.3,108.55) scale(0.778,1)" text-anchor="end" font-weight="bold" font-size="14.7"><tspan class="h">1</tspan>0</text>
<text transform="translate(30.3,22.6) scale(0.778,1)" text-anchor="end" font-weight="bold" font-size="14.7"><tspan class="h">1</tspan>5</text>
<text transform="translate(219.2,327.2) scale(0.789,1)" text-anchor="middle" font-weight="bold" font-size="14.4">Reconstructed E (GeV)</text>
<text transform="translate(11.9,214.5) rotate(-90) scale(1.062,0.93)" font-weight="bold" font-size="13.3"><tspan font-style="italic">&#957;</tspan><tspan font-size="9.5" dy="2.6" dx="0.3" font-weight="normal">&#964;</tspan><tspan dy="-2.6" dx="3.0"> Evts (normalized)</tspan></text>
<text class="r" transform="translate(307.2,39.55) scale(0.76,1)" text-anchor="middle" font-size="14.0">No Decay</text>
<text class="r" transform="scale(0.76,1)" y="56.75" font-size="14.0"><tspan x="358.68" font-style="italic" stroke="none" font-size="14.3">&#946;</tspan><tspan x="367.76" font-size="9.8" dy="2.4">3</tspan><tspan x="372.76" dy="-2.4">=</tspan><tspan x="384.87"><tspan class="h">1</tspan>0</tspan><tspan x="399.34" font-size="9.8" dy="-6.9" letter-spacing="0.9">&#8722;<tspan class="h">1</tspan>0</tspan><tspan x="423.82" dy="6.9">s/eV</tspan></text>
<text class="r" transform="scale(0.76,1)" y="74.45" font-size="14.0"><tspan x="345.53" font-style="italic" stroke="none" font-size="14.3">&#946;</tspan><tspan x="354.61" font-size="9.8" dy="2.4">3</tspan><tspan x="359.74" dy="-2.4">=</tspan><tspan x="372.50">5 x <tspan class="h">1</tspan>0</tspan><tspan x="410.79" font-size="9.8" dy="-6.9" letter-spacing="0.9">&#8722;<tspan class="h">1</tspan><tspan class="h">1</tspan></tspan><tspan x="435.79" dy="6.9">s/eV</tspan></text>
<text class="r" transform="scale(0.76,1)" y="91.65" font-size="14.0"><tspan x="358.68" font-style="italic" stroke="none" font-size="14.3">&#946;</tspan><tspan x="367.76" font-size="9.8" dy="2.4">3</tspan><tspan x="372.76" dy="-2.4">=</tspan><tspan x="384.87"><tspan class="h">1</tspan>0</tspan><tspan x="399.34" font-size="9.8" dy="-6.9" letter-spacing="0.9">&#8722;<tspan class="h">1</tspan><tspan class="h">1</tspan></tspan><tspan x="423.82" dy="6.9">s/eV</tspan></text>
<text class="r" transform="scale(0.76,1)" y="108.85" font-size="14.0"><tspan x="345.53" font-style="italic" stroke="none" font-size="14.3">&#946;</tspan><tspan x="354.61" font-size="9.8" dy="2.4">3</tspan><tspan x="359.74" dy="-2.4">=</tspan><tspan x="372.50">2 x <tspan class="h">1</tspan>0</tspan><tspan x="410.79" font-size="9.8" dy="-6.9" letter-spacing="0.9">&#8722;<tspan class="h">1</tspan>2</tspan><tspan x="435.79" dy="6.9">s/eV</tspan></text>
<path class="g1" transform="translate(399.5,306.15) scale(0.778,1) translate(-8.17,0.00) scale(0.00718,-0.00718)" stroke-width="30.7" d="M478 0V1170L140 959V1180L493 1409H759V0Z"/>
<path class="g1" transform="translate(30.3,108.55) scale(0.778,1) translate(-16.34,0.00) scale(0.00718,-0.00718)" stroke-width="30.7" d="M478 0V1170L140 959V1180L493 1409H759V0Z"/>
<path class="g1" transform="translate(30.3,22.6) scale(0.778,1) translate(-16.34,0.00) scale(0.00718,-0.00718)" stroke-width="30.7" d="M478 0V1170L140 959V1180L493 1409H759V0Z"/>
<path class="g1" transform="scale(0.76,1) translate(384.87,56.75) scale(0.00684,-0.00684)" stroke-width="32.2" d="M515 0V1237L197 1010V1180L530 1409H696V0Z"/>
<path class="g1" transform="scale(0.76,1) translate(405.96,49.85) scale(0.00479,-0.00479)" stroke-width="46.0" d="M515 0V1237L197 1010V1180L530 1409H696V0Z"/>
<path class="g1" transform="scale(0.76,1) translate(395.08,74.45) scale(0.00684,-0.00684)" stroke-width="32.2" d="M515 0V1237L197 1010V1180L530 1409H696V0Z"/>
<path class="g1" transform="scale(0.76,1) translate(417.42,67.55) scale(0.00479,-0.00479)" stroke-width="46.0" d="M515 0V1237L197 1010V1180L530 1409H696V0Z"/>
<path class="g1" transform="scale(0.76,1) translate(423.04,67.55) scale(0.00479,-0.00479)" stroke-width="46.0" d="M515 0V1237L197 1010V1180L530 1409H696V0Z"/>
<path class="g1" transform="scale(0.76,1) translate(384.87,91.65) scale(0.00684,-0.00684)" stroke-width="32.2" d="M515 0V1237L197 1010V1180L530 1409H696V0Z"/>
<path class="g1" transform="scale(0.76,1) translate(405.96,84.75) scale(0.00479,-0.00479)" stroke-width="46.0" d="M515 0V1237L197 1010V1180L530 1409H696V0Z"/>
<path class="g1" transform="scale(0.76,1) translate(411.59,84.75) scale(0.00479,-0.00479)" stroke-width="46.0" d="M515 0V1237L197 1010V1180L530 1409H696V0Z"/>
<path class="g1" transform="scale(0.76,1) translate(395.08,108.85) scale(0.00684,-0.00684)" stroke-width="32.2" d="M515 0V1237L197 1010V1180L530 1409H696V0Z"/>
<path class="g1" transform="scale(0.76,1) translate(417.42,101.95) scale(0.00479,-0.00479)" stroke-width="46.0" d="M515 0V1237L197 1010V1180L530 1409H696V0Z"/>
</g>
</svg>
</body></html>
